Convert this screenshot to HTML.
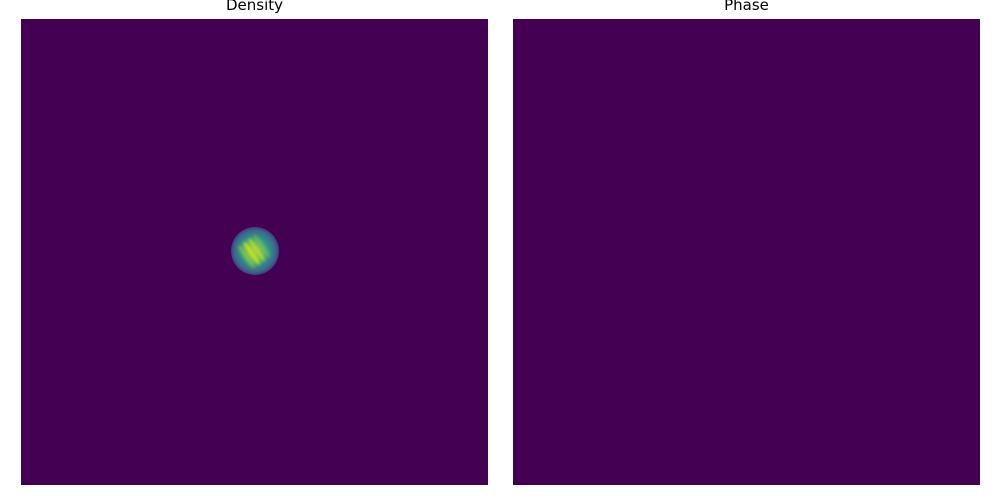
<!DOCTYPE html>
<html><head><meta charset="utf-8"><style>
body{margin:0;width:1000px;height:500px;background:#fff;overflow:hidden;font-family:"DejaVu Sans","Liberation Sans",sans-serif}
.t{position:absolute;top:-4px;font-size:15px;color:#000;text-align:center}
</style></head><body>
<div class="t" style="left:21px;width:467px">Density</div>
<div class="t" style="left:513px;width:467px">Phase</div>
<svg width="1000" height="500" style="position:absolute;left:0;top:0">
<defs>
<radialGradient id="g" cx="0.5" cy="0.5" r="0.5">
<stop offset="0" stop-color="#4ab884"/>
<stop offset="0.55" stop-color="#2a968a"/>
<stop offset="0.85" stop-color="#3a6a8c"/>
<stop offset="1" stop-color="#463a80"/>
</radialGradient>
<clipPath id="c"><circle cx="255" cy="251" r="23"/></clipPath>
</defs>
<rect x="21" y="19" width="467" height="466" fill="#440154"/>
<rect x="513" y="19" width="467" height="466" fill="#440154"/>
<g id="blob"></g>
</svg>
<script>
const blobCenter=[255,251];
const blobRadius=[24];
const stripeOffsets=[-10,-4,2,8];
const stripeIntensity=[0.5,1.0,0.85,0.4];
const g=document.getElementById('blob');
const ns='http://www.w3.org/2000/svg';
const c=document.createElementNS(ns,'circle');
c.setAttribute('cx',blobCenter[0]);c.setAttribute('cy',blobCenter[1]);c.setAttribute('r',blobRadius[0]);c.setAttribute('fill','url(#g)');


g.appendChild(c);
const sg=document.createElementNS(ns,'g');
sg.setAttribute('clip-path','url(#c)');
sg.setAttribute('transform','rotate(-35 '+blobCenter[0]+' '+blobCenter[1]+')');
g.appendChild(sg);
stripeOffsets.forEach((o,i)=>{
 const e=document.createElementNS(ns,'ellipse');
 e.setAttribute('cx',blobCenter[0]+o);e.setAttribute('cy',blobCenter[1]);
 e.setAttribute('rx',3);e.setAttribute('ry',14);
 e.setAttribute('fill','#c8e020');e.setAttribute('opacity',stripeIntensity[i]);
 e.setAttribute('style','filter:blur(1.5px)');
 
 
 sg.appendChild(e);
});
</script>
</body></html>
